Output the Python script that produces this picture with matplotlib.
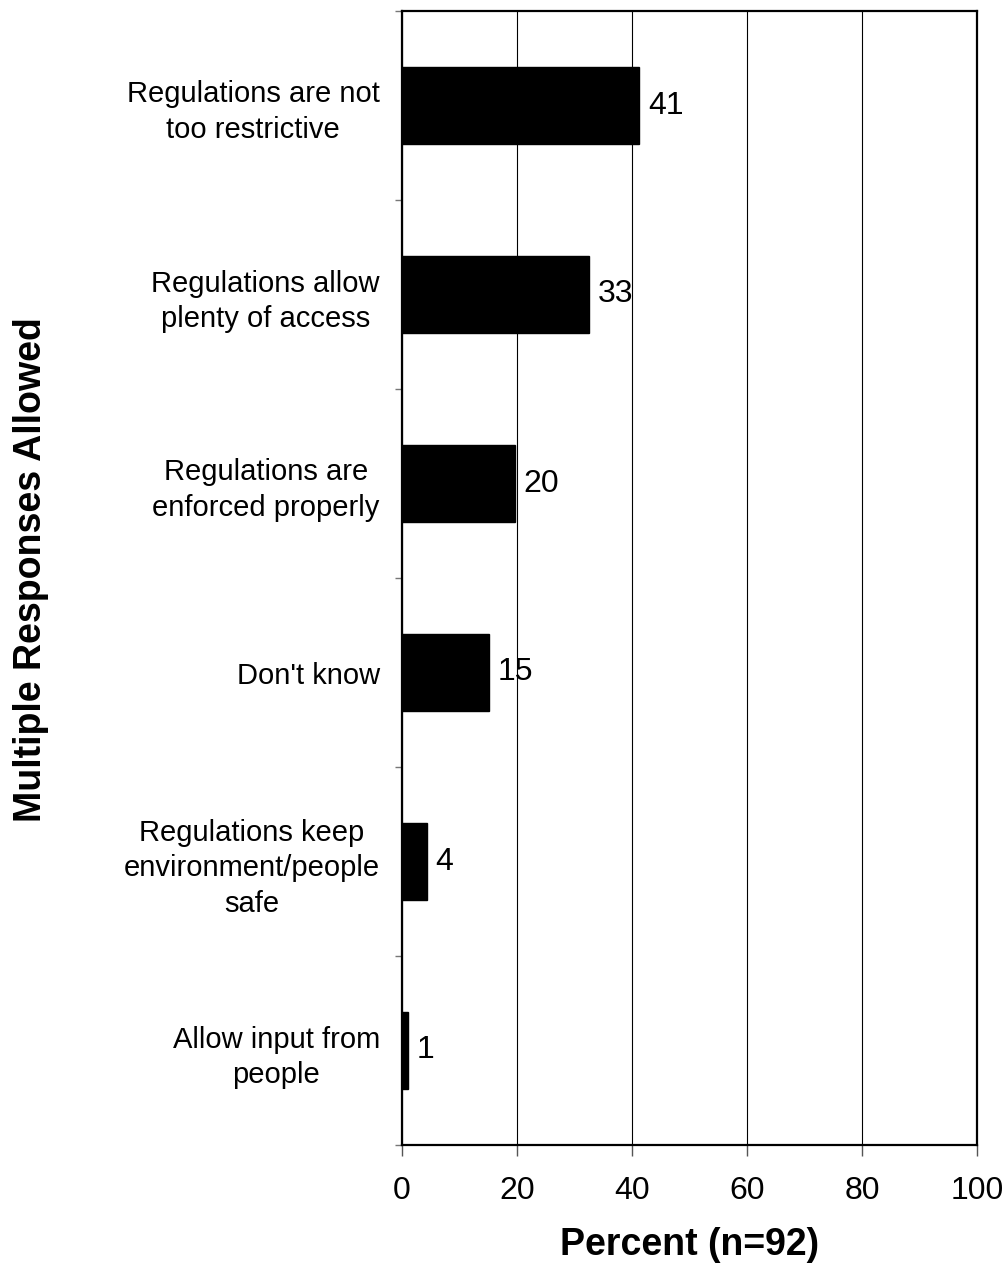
import matplotlib
matplotlib.use("Agg")
import matplotlib.pyplot as plt
import numpy as np

categories = [
    "Regulations are not\ntoo restrictive",
    "Regulations allow\nplenty of access",
    "Regulations are\nenforced properly",
    "Don't know",
    "Regulations keep\nenvironment/people\nsafe",
    "Allow input from\npeople",
]
values = [41.3, 32.6, 19.6, 15.2, 4.3, 1.1]
value_labels = ["41", "33", "20", "15", "4", "1"]
xticks = [0, 20, 40, 60, 80, 100]

plt.rcParams['font.family'] = ['Liberation Sans', 'DejaVu Sans']

fig = plt.figure(figsize=(10.06, 12.70), dpi=100)
ax = fig.add_axes([402/1006, 1 - 1145/1270, (977-402)/1006, (1145-11)/1270])

y = np.arange(len(categories))
ax.barh(y, values, height=0.41, color='black', edgecolor='black', zorder=3)
for yi, v, lab in zip(y, values, value_labels):
    ax.annotate(lab, xy=(v, yi), xytext=(6, 0), textcoords='offset points',
                ha='left', va='center', fontsize=23, zorder=4)

ax.set_xlim(0, 100)
ax.set_ylim(len(categories) - 0.5, -0.5)
ax.set_xticks(xticks)
ax.set_xticklabels([str(t) for t in xticks], fontsize=23)
ax.set_yticks(y)
ax.set_yticklabels(categories, fontsize=21, multialignment='center', linespacing=1.35)
ax.set_yticks(np.arange(-0.5, len(categories)), minor=True)
ax.tick_params(axis='y', which='major', length=0, pad=16)
ax.tick_params(axis='y', which='minor', length=5, width=1, color='#777777', direction='out')
ax.tick_params(axis='x', which='major', length=8, width=1, color='#555555', direction='out', pad=14)

ax.grid(axis='x', color='black', linewidth=0.8, zorder=0)
for s in ax.spines.values():
    s.set_linewidth(1.6)
    s.set_color('black')
    s.set_zorder(5)

ax.set_xlabel("Percent (n=92)", fontsize=27, fontweight='bold')
ax.xaxis.set_label_coords(0.5, -0.088)
ax.xaxis.label.set_va('center')
ax.set_ylabel("Multiple Responses Allowed", fontsize=27, fontweight='bold')
ax.yaxis.set_label_coords(-0.645, 0.507)
ax.yaxis.label.set_va('center')

fig.savefig("out.png", dpi=100)
